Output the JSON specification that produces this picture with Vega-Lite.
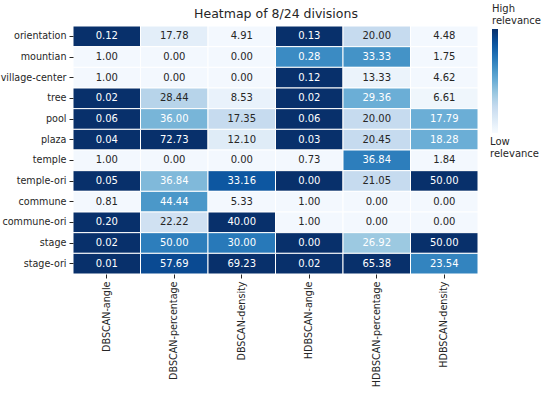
{
  "$schema": "https://vega.github.io/schema/vega-lite/v6.json",
  "width": 405,
  "height": 248,
  "autosize": {"type": "none"},
  "padding": {"left": 73, "top": 26, "right": 72, "bottom": 119},
  "background": "white",
  "config": {"view": {"stroke": null}, "font": "DejaVu Sans"},
  "resolve": {"axis": {"x": "independent"}},
  "data": {"values": [
    {"row": "orientation", "col": "DBSCAN-angle", "value": 0.12, "rel": 1.0},
    {"row": "orientation", "col": "DBSCAN-percentage", "value": 17.78, "rel": 0.1},
    {"row": "orientation", "col": "DBSCAN-density", "value": 4.91, "rel": 0.02},
    {"row": "orientation", "col": "HDBSCAN-angle", "value": 0.13, "rel": 1.0},
    {"row": "orientation", "col": "HDBSCAN-percentage", "value": 20.00, "rel": 0.25},
    {"row": "orientation", "col": "HDBSCAN-density", "value": 4.48, "rel": 0.02},
    {"row": "mountian", "col": "DBSCAN-angle", "value": 1.00, "rel": 0.02},
    {"row": "mountian", "col": "DBSCAN-percentage", "value": 0.00, "rel": 0.02},
    {"row": "mountian", "col": "DBSCAN-density", "value": 0.00, "rel": 0.02},
    {"row": "mountian", "col": "HDBSCAN-angle", "value": 0.28, "rel": 0.65},
    {"row": "mountian", "col": "HDBSCAN-percentage", "value": 33.33, "rel": 0.62},
    {"row": "mountian", "col": "HDBSCAN-density", "value": 1.75, "rel": 0.02},
    {"row": "village-center", "col": "DBSCAN-angle", "value": 1.00, "rel": 0.02},
    {"row": "village-center", "col": "DBSCAN-percentage", "value": 0.00, "rel": 0.02},
    {"row": "village-center", "col": "DBSCAN-density", "value": 0.00, "rel": 0.02},
    {"row": "village-center", "col": "HDBSCAN-angle", "value": 0.12, "rel": 1.0},
    {"row": "village-center", "col": "HDBSCAN-percentage", "value": 13.33, "rel": 0.06},
    {"row": "village-center", "col": "HDBSCAN-density", "value": 4.62, "rel": 0.02},
    {"row": "tree", "col": "DBSCAN-angle", "value": 0.02, "rel": 1.0},
    {"row": "tree", "col": "DBSCAN-percentage", "value": 28.44, "rel": 0.3},
    {"row": "tree", "col": "DBSCAN-density", "value": 8.53, "rel": 0.07},
    {"row": "tree", "col": "HDBSCAN-angle", "value": 0.02, "rel": 1.0},
    {"row": "tree", "col": "HDBSCAN-percentage", "value": 29.36, "rel": 0.5},
    {"row": "tree", "col": "HDBSCAN-density", "value": 6.61, "rel": 0.04},
    {"row": "pool", "col": "DBSCAN-angle", "value": 0.06, "rel": 1.0},
    {"row": "pool", "col": "DBSCAN-percentage", "value": 36.00, "rel": 0.47},
    {"row": "pool", "col": "DBSCAN-density", "value": 17.35, "rel": 0.25},
    {"row": "pool", "col": "HDBSCAN-angle", "value": 0.06, "rel": 1.0},
    {"row": "pool", "col": "HDBSCAN-percentage", "value": 20.00, "rel": 0.25},
    {"row": "pool", "col": "HDBSCAN-density", "value": 17.79, "rel": 0.5},
    {"row": "plaza", "col": "DBSCAN-angle", "value": 0.04, "rel": 1.0},
    {"row": "plaza", "col": "DBSCAN-percentage", "value": 72.73, "rel": 1.0},
    {"row": "plaza", "col": "DBSCAN-density", "value": 12.10, "rel": 0.12},
    {"row": "plaza", "col": "HDBSCAN-angle", "value": 0.03, "rel": 1.0},
    {"row": "plaza", "col": "HDBSCAN-percentage", "value": 20.45, "rel": 0.25},
    {"row": "plaza", "col": "HDBSCAN-density", "value": 18.28, "rel": 0.5},
    {"row": "temple", "col": "DBSCAN-angle", "value": 1.00, "rel": 0.02},
    {"row": "temple", "col": "DBSCAN-percentage", "value": 0.00, "rel": 0.02},
    {"row": "temple", "col": "DBSCAN-density", "value": 0.00, "rel": 0.02},
    {"row": "temple", "col": "HDBSCAN-angle", "value": 0.73, "rel": 0.02},
    {"row": "temple", "col": "HDBSCAN-percentage", "value": 36.84, "rel": 0.7},
    {"row": "temple", "col": "HDBSCAN-density", "value": 1.84, "rel": 0.02},
    {"row": "temple-ori", "col": "DBSCAN-angle", "value": 0.05, "rel": 1.0},
    {"row": "temple-ori", "col": "DBSCAN-percentage", "value": 36.84, "rel": 0.45},
    {"row": "temple-ori", "col": "DBSCAN-density", "value": 33.16, "rel": 0.85},
    {"row": "temple-ori", "col": "HDBSCAN-angle", "value": 0.00, "rel": 1.0},
    {"row": "temple-ori", "col": "HDBSCAN-percentage", "value": 21.05, "rel": 0.25},
    {"row": "temple-ori", "col": "HDBSCAN-density", "value": 50.00, "rel": 1.0},
    {"row": "commune", "col": "DBSCAN-angle", "value": 0.81, "rel": 0.02},
    {"row": "commune", "col": "DBSCAN-percentage", "value": 44.44, "rel": 0.6},
    {"row": "commune", "col": "DBSCAN-density", "value": 5.33, "rel": 0.02},
    {"row": "commune", "col": "HDBSCAN-angle", "value": 1.00, "rel": 0.02},
    {"row": "commune", "col": "HDBSCAN-percentage", "value": 0.00, "rel": 0.02},
    {"row": "commune", "col": "HDBSCAN-density", "value": 0.00, "rel": 0.02},
    {"row": "commune-ori", "col": "DBSCAN-angle", "value": 0.20, "rel": 1.0},
    {"row": "commune-ori", "col": "DBSCAN-percentage", "value": 22.22, "rel": 0.2},
    {"row": "commune-ori", "col": "DBSCAN-density", "value": 40.00, "rel": 1.0},
    {"row": "commune-ori", "col": "HDBSCAN-angle", "value": 1.00, "rel": 0.02},
    {"row": "commune-ori", "col": "HDBSCAN-percentage", "value": 0.00, "rel": 0.02},
    {"row": "commune-ori", "col": "HDBSCAN-density", "value": 0.00, "rel": 0.02},
    {"row": "stage", "col": "DBSCAN-angle", "value": 0.02, "rel": 1.0},
    {"row": "stage", "col": "DBSCAN-percentage", "value": 50.00, "rel": 0.7},
    {"row": "stage", "col": "DBSCAN-density", "value": 30.00, "rel": 0.72},
    {"row": "stage", "col": "HDBSCAN-angle", "value": 0.00, "rel": 1.0},
    {"row": "stage", "col": "HDBSCAN-percentage", "value": 26.92, "rel": 0.38},
    {"row": "stage", "col": "HDBSCAN-density", "value": 50.00, "rel": 1.0},
    {"row": "stage-ori", "col": "DBSCAN-angle", "value": 0.01, "rel": 1.0},
    {"row": "stage-ori", "col": "DBSCAN-percentage", "value": 57.69, "rel": 0.9},
    {"row": "stage-ori", "col": "DBSCAN-density", "value": 69.23, "rel": 1.0},
    {"row": "stage-ori", "col": "HDBSCAN-angle", "value": 0.02, "rel": 1.0},
    {"row": "stage-ori", "col": "HDBSCAN-percentage", "value": 65.38, "rel": 1.0},
    {"row": "stage-ori", "col": "HDBSCAN-density", "value": 23.54, "rel": 0.68}
  ]},
  "layer": [
    {"mark": {"type": "rect", "stroke": "white", "strokeWidth": 1},
     "encoding": {
       "x": {"field": "col", "type": "nominal",
         "sort": ["DBSCAN-angle", "DBSCAN-percentage", "DBSCAN-density", "HDBSCAN-angle", "HDBSCAN-percentage", "HDBSCAN-density"],
         "axis": {"title": null, "labelAngle": -90, "domain": false, "tickColor": "#262626", "tickSize": 4, "labelFontSize": 9.6, "labelColor": "#262626", "labelPadding": 3, "labelFont": "DejaVu Sans"}},
       "y": {"field": "row", "type": "nominal",
         "sort": ["orientation", "mountian", "village-center", "tree", "pool", "plaza", "temple", "temple-ori", "commune", "commune-ori", "stage", "stage-ori"],
         "axis": {"title": null, "domain": false, "tickColor": "#262626", "tickSize": 4, "labelFontSize": 9.6, "labelColor": "#262626", "labelPadding": 3, "labelFont": "DejaVu Sans"}},
       "color": {"field": "rel", "type": "quantitative",
       "scale": {"domain": [0, 0.125, 0.25, 0.375, 0.5, 0.625, 0.75, 0.875, 1], "range": ["#f7fbff", "#deebf7", "#c6dbef", "#9ecae1", "#6baed6", "#4292c6", "#2171b5", "#08519c", "#08306b"]},
       "legend": {"orient": "none", "legendX": 419, "legendY": -22, "title": ["High", "relevance"], "titleFontSize": 10, "titleFontWeight": "normal", "titleColor": "#262626", "titleFont": "DejaVu Sans", "titleLineHeight": 12, "titlePadding": 3, "gradientLength": 104, "gradientThickness": 6, "gradientStrokeWidth": 0, "values": [0], "labelExpr": "['Low', 'relevance']", "labelOffset": -8, "labelFontSize": 10, "labelColor": "#262626", "labelFont": "DejaVu Sans", "labelLineHeight": 13, "encode": {"labels": {"update": {"baseline": {"value": "top"}, "dy": {"value": 4}}}}}}}},
    {"mark": {"type": "text", "fontSize": 10, "font": "DejaVu Sans"},
     "encoding": {
       "x": {"field": "col", "type": "nominal",
         "sort": ["DBSCAN-angle", "DBSCAN-percentage", "DBSCAN-density", "HDBSCAN-angle", "HDBSCAN-percentage", "HDBSCAN-density"],
         "axis": {"orient": "top", "title": "Heatmap of 8/24 divisions", "titleFontSize": 12.5, "titleFontWeight": "normal", "titleColor": "#262626", "titleFont": "DejaVu Sans", "titlePadding": 6, "labels": false, "ticks": false, "domain": false}},
       "y": {"field": "row", "type": "nominal",
         "sort": ["orientation", "mountian", "village-center", "tree", "pool", "plaza", "temple", "temple-ori", "commune", "commune-ori", "stage", "stage-ori"]},
       "text": {"field": "value", "type": "quantitative", "format": ".2f"},
       "color": {"condition": {"test": "datum.rel >= 0.35", "value": "white"}, "value": "#262626"}}}
  ]
}
